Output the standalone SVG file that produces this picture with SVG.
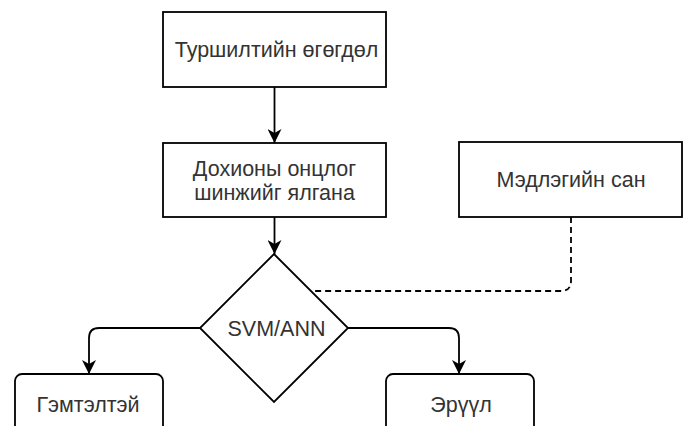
<svg xmlns="http://www.w3.org/2000/svg" width="686" height="426" viewBox="0 0 686 426">
<defs>
<style>
.box{fill:#fff;stroke:#000;stroke-width:1.8}
.t{font-family:"Liberation Sans",Arial,sans-serif;font-size:21.5px;fill:#333;text-anchor:middle}
.c{fill:none;stroke:#000;stroke-width:1.8}
.d{fill:none;stroke:#000;stroke-width:1.8;stroke-dasharray:6 4}
</style>
<marker id="ah" viewBox="0 0 14 14" refX="14" refY="7" markerWidth="14" markerHeight="14" markerUnits="userSpaceOnUse" orient="auto">
<path d="M0,0 L14,7 L0,14 L4,7 Z" fill="#000"/>
</marker>
</defs>
<rect width="686" height="426" fill="#fff"/>
<g id="connectors">
<path class="c" d="M274.5,87 V143" marker-end="url(#ah)"/>
<path class="c" d="M274.5,217 V254" marker-end="url(#ah)"/>
<path class="c" d="M200,328 H99 Q89,328 89,338 V374" marker-end="url(#ah)"/>
<path class="c" d="M348,328 H449 Q459,328 459,338 V374" marker-end="url(#ah)"/>
<path class="d" d="M571,217 V281 Q571,291 561,291 H312"/>
</g>
<g id="n1">
<rect class="box" x="163" y="12" width="223" height="75"/>
<text class="t" x="276.5" y="57">Туршилтийн өгөгдөл</text>
</g>
<g id="n2">
<rect class="box" x="163" y="143" width="223" height="74"/>
<text class="t" x="274.5" y="176">Дохионы онцлог</text>
<text class="t" x="274.5" y="200">шинжийг ялгана</text>
</g>
<g id="n3">
<rect class="box" x="459" y="142" width="223" height="75"/>
<text class="t" x="571" y="187">Мэдлэгийн сан</text>
</g>
<g id="n4">
<path class="box" d="M274,254 L348,328 L274,402 L200,328 Z"/>
<text class="t" x="276.5" y="336">SVM/ANN</text>
</g>
<g id="n5">
<rect class="box" x="15" y="374" width="148" height="60" rx="7"/>
<text class="t" x="88" y="412">Гэмтэлтэй</text>
</g>
<g id="n6">
<rect class="box" x="386" y="374" width="148" height="60" rx="7"/>
<text class="t" x="461" y="412">Эрүүл</text>
</g>
</svg>
